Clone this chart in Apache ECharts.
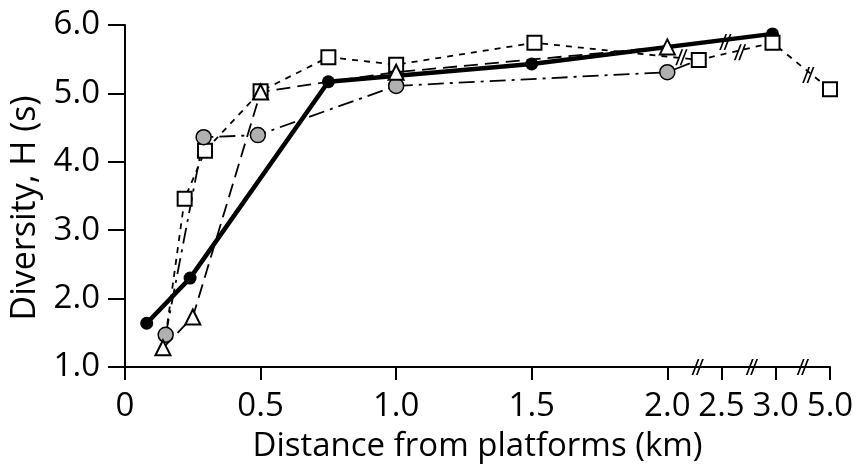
<!DOCTYPE html>
<html>
<head>
<meta charset="utf-8">
<script src="https://cdn.jsdelivr.net/npm/echarts@6/dist/echarts.min.js"></script>
<style>
  html, body { margin: 0; padding: 0; background: #fff; }
  #chart { width: 857px; height: 468px; }
</style>
</head>
<body>
<div id="chart"></div>
<script>
// distances in km, diversity H(s)
const xTickKm = [0, 0.5, 1.0, 1.5, 2.0, 2.5, 3.0, 5.0]
const xTickLabels = ['0', '0.5', '1.0', '1.5', '2.0', '2.5', '3.0', '5.0']

const boldKm = [0.08, 0.24, 0.75, 1.5, 2.97]
const boldH = [1.64, 2.30, 5.17, 5.43, 5.87]

const squareKm = [0.15, 0.22, 0.295, 0.5, 0.75, 1.0, 1.51, 2.29, 2.97, 5.0]
const squareH = [1.45, 3.46, 4.16, 5.03, 5.53, 5.42, 5.74, 5.49, 5.74, 5.06]
const squareHidden = [0]

const greyKm = [0.15, 0.29, 0.49, 1.0, 2.0, 2.29]
const greyH = [1.47, 4.36, 4.39, 5.11, 5.31, 5.49]
const greyHidden = [5]

const triKm = [0.14, 0.25, 0.5, 0.75, 1.0, 2.0]
const triH = [1.28, 1.73, 5.02, 5.17, 5.31, 5.68]
const triHidden = [3]

// axis break marks (km, H)
const axisBreaksKm = [2.28, 2.78, 4.0]
const lineBreaksKm = [2.13, 2.67, 2.535, 4.2]
const lineBreaksH = [5.53, 5.60, 5.75, 5.27]

// broken axis: linear up to 2.0, then compressed steps
function toPos(km) {
  if (km <= 2) return km
  if (km <= 3) return 2 + 0.4 * (km - 2)
  return 2.4 + 0.1 * (km - 3)
}

function pts(xs, ys, hidden) {
  return xs.map((x, i) => {
    const item = { value: [toPos(x), ys[i]] }
    if (hidden && hidden.includes(i)) item.symbol = 'none'
    return item
  })
}

const FONT = 'Open Sans'
const slash = 'path://M0,16 L7,0 L9,0 L2,16 Z M5,16 L12,0 L14,0 L7,16 Z'
const tickPos = xTickKm.map(toPos)

const breakMarks = axisBreaksKm.map(k => ({ coord: [toPos(k), 1.0] }))
  .concat(lineBreaksKm.map((k, i) => ({ coord: [toPos(k), lineBreaksH[i]] })))

const chart = echarts.init(document.getElementById('chart'))
chart.setOption({
  animation: false,
  backgroundColor: '#fff',
  grid: { left: 125, right: 27, top: 25, bottom: 101 },
  xAxis: {
    type: 'value',
    min: 0,
    max: 2.6,
    name: 'Distance from platforms (km)',
    nameLocation: 'middle',
    nameGap: 63,
    nameTextStyle: { fontFamily: FONT, fontSize: 33, color: '#000' },
    splitLine: { show: false },
    axisLine: { lineStyle: { color: '#000', width: 2 } },
    axisTick: { customValues: tickPos, length: 13, lineStyle: { color: '#000', width: 2 } },
    axisLabel: {
      customValues: tickPos,
      margin: 23,
      fontFamily: FONT,
      fontSize: 33,
      color: '#000',
      formatter: v => {
        const i = tickPos.findIndex(p => Math.abs(p - v) < 1e-6)
        return i >= 0 ? xTickLabels[i] : ''
      }
    }
  },
  yAxis: {
    type: 'value',
    min: 1,
    max: 6,
    interval: 1,
    name: 'Diversity, H (s)',
    nameLocation: 'middle',
    nameGap: 82,
    nameTextStyle: { fontFamily: FONT, fontSize: 34, color: '#000', padding: [0, 24, 0, 0] },
    splitLine: { show: false },
    axisLine: { show: true, lineStyle: { color: '#000', width: 2 } },
    axisTick: { length: 17, lineStyle: { color: '#000', width: 2 } },
    axisLabel: {
      margin: 25,
      fontFamily: FONT,
      fontSize: 33,
      color: '#000',
      formatter: v => v.toFixed(1)
    }
  },
  series: [
    {
      name: 'bold',
      type: 'line',
      data: pts(boldKm, boldH),
      symbol: 'circle',
      symbolSize: 13,
      itemStyle: { color: '#000' },
      lineStyle: { color: '#000', width: 4.5 }
    },
    {
      name: 'square',
      type: 'line',
      data: pts(squareKm, squareH, squareHidden),
      symbol: 'rect',
      symbolSize: 14,
      itemStyle: { color: '#fff', borderColor: '#000', borderWidth: 2 },
      lineStyle: { color: '#000', width: 1.8, type: [6, 6] },
      markPoint: {
        symbol: slash,
        symbolSize: [14, 16],
        symbolKeepAspect: true,
        itemStyle: { color: '#000' },
        label: { show: false },
        data: breakMarks
      }
    },
    {
      name: 'grey',
      type: 'line',
      data: pts(greyKm, greyH, greyHidden),
      symbol: 'circle',
      symbolSize: 15,
      itemStyle: { color: '#b0b0b0', borderColor: '#000', borderWidth: 1.5 },
      lineStyle: { color: '#000', width: 1.8, type: [16, 6, 3, 6] }
    },
    {
      name: 'triangle',
      type: 'line',
      data: pts(triKm, triH, triHidden),
      symbol: 'triangle',
      symbolSize: 15,
      itemStyle: { color: '#fff', borderColor: '#000', borderWidth: 2 },
      lineStyle: { color: '#000', width: 1.8, type: [14, 7] }
    }
  ]
})
</script>
</body>
</html>
